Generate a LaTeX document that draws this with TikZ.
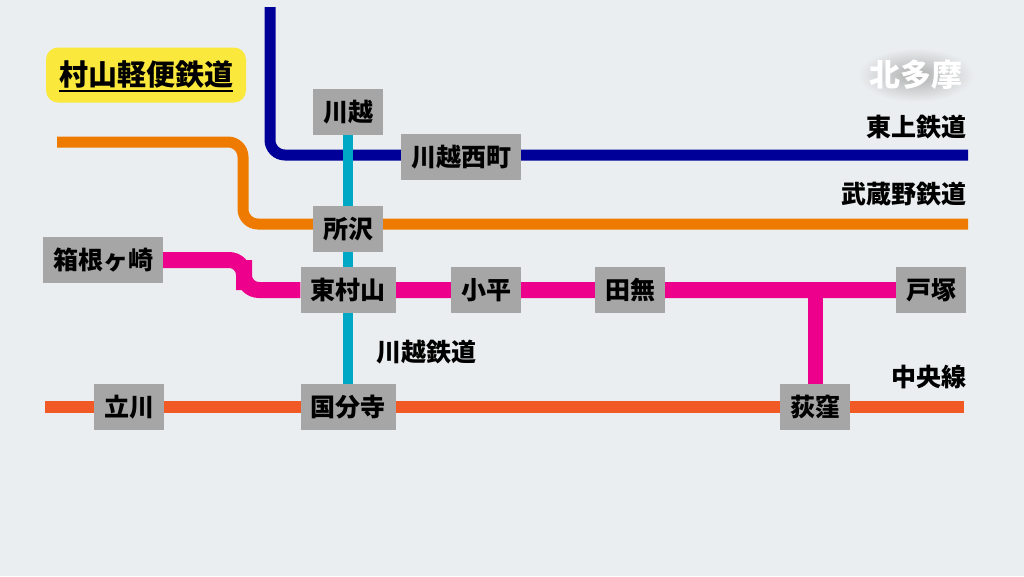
\documentclass[tikz,border=0pt]{standalone}
\usepackage{fontspec}
\setmainfont{Noto Sans CJK JP}
\usetikzlibrary{positioning}
\usetikzlibrary{backgrounds}

\definecolor{bgcolor}{RGB}{235,238,240}
\definecolor{tojo}{RGB}{0,0,153}
\definecolor{musashino}{RGB}{238,122,0}
\definecolor{murayama}{RGB}{236,0,140}
\definecolor{kawagoeline}{RGB}{0,168,198}
\definecolor{chuo}{RGB}{241,90,36}
\definecolor{stationgray}{RGB}{166,166,166}
\definecolor{titleyellow}{RGB}{250,233,60}

\tikzset{
	station/.style={fill=stationgray, inner xsep=10pt, inner ysep=0pt, minimum height=46pt, font=\fontsize{25}{25}\selectfont\bfseries},
	linelabel/.style={inner sep=0pt, font=\fontsize{25}{25}\selectfont\bfseries},
	railway/.style={line width=#1, rounded corners=15pt},
	areafont/.style={inner sep=0pt, font=\fontsize{31}{31}\selectfont\bfseries},
}

\begin{document}
\begin{tikzpicture}[x=1pt, y=-1pt]
	\useasboundingbox (0,0) rectangle (1024,576);
	
	\node[fill=titleyellow, rounded corners=12pt, inner xsep=13pt, minimum height=55pt, font=\fontsize{29}{29}\selectfont\bfseries] (title) at (146,75) {村山軽便鉄道};
	\draw[line width=1.8pt] ([xshift=13pt, yshift=-5pt]title.base west) -- ([xshift=-13pt, yshift=-5pt]title.base east);
	
	\node[areafont, text=white] (area) at (916,75) {北多摩};
	
	\node[station] (kawagoe) at (348,112) {川越};
	\node[station] (kawagoenishi) at (461,157) {川越西町};
	\node[station] (tokorozawa) at (348,229) {所沢};
	\node[station] (hakone) at (103,260) {箱根ヶ崎};
	\node[station] (higashimurayama) at (348,290) {東村山};
	\node[station] (kodaira) at (486,290) {小平};
	\node[station] (tanashi) at (630,290) {田無};
	\node[station] (tozuka) at (931,290) {戸塚};
	\node[station] (tachikawa) at (129,407) {立川};
	\node[station] (kokubunji) at (348,407) {国分寺};
	\node[station] (ogikubo) at (815,407) {荻窪};
	
	\node[linelabel, anchor=east] (tojolabel) at (967,127) {東上鉄道};
	\node[linelabel, anchor=east] (musashinolabel) at (967,194) {武蔵野鉄道};
	\node[linelabel, anchor=west] (kawagoelabel) at (376,352) {川越鉄道};
	\node[linelabel, anchor=east] (chuolabel) at (967,377) {中央線};
	
	\coordinate (tojoN) at (270,7);
	\coordinate (tojoE) at (968,155);
	\coordinate (musashinoW) at (57,142);
	\coordinate (musashinobend) at (243,180);
	\coordinate (musashinoE) at (968,224);
	\coordinate (murayamabend) at (244,275);
	\coordinate (chuoW) at (45,407);
	\coordinate (chuoE) at (964,407);
	
	\begin{pgfonlayer}{background}
		\fill[bgcolor] (0,0) rectangle (1024,576);
		\shade[inner color=black!32, outer color=bgcolor] (area) ellipse (58 and 27);
		\draw[railway=11pt, tojo] (tojoN) |- (tojoE);
		\draw[railway=11pt, musashino] (musashinoW) -| (musashinobend) |- (musashinoE);
		\draw[railway=16pt, murayama] (hakone) -| (murayamabend) |- (higashimurayama) -- (tozuka);
		\draw[line width=15pt, murayama] (ogikubo |- tanashi) -- (ogikubo);
		\draw[line width=10pt, kawagoeline] (kawagoe) -- (kokubunji);
		\draw[line width=12pt, chuo] (chuoW) -- (chuoE);
	\end{pgfonlayer}
\end{tikzpicture}
\end{document}
